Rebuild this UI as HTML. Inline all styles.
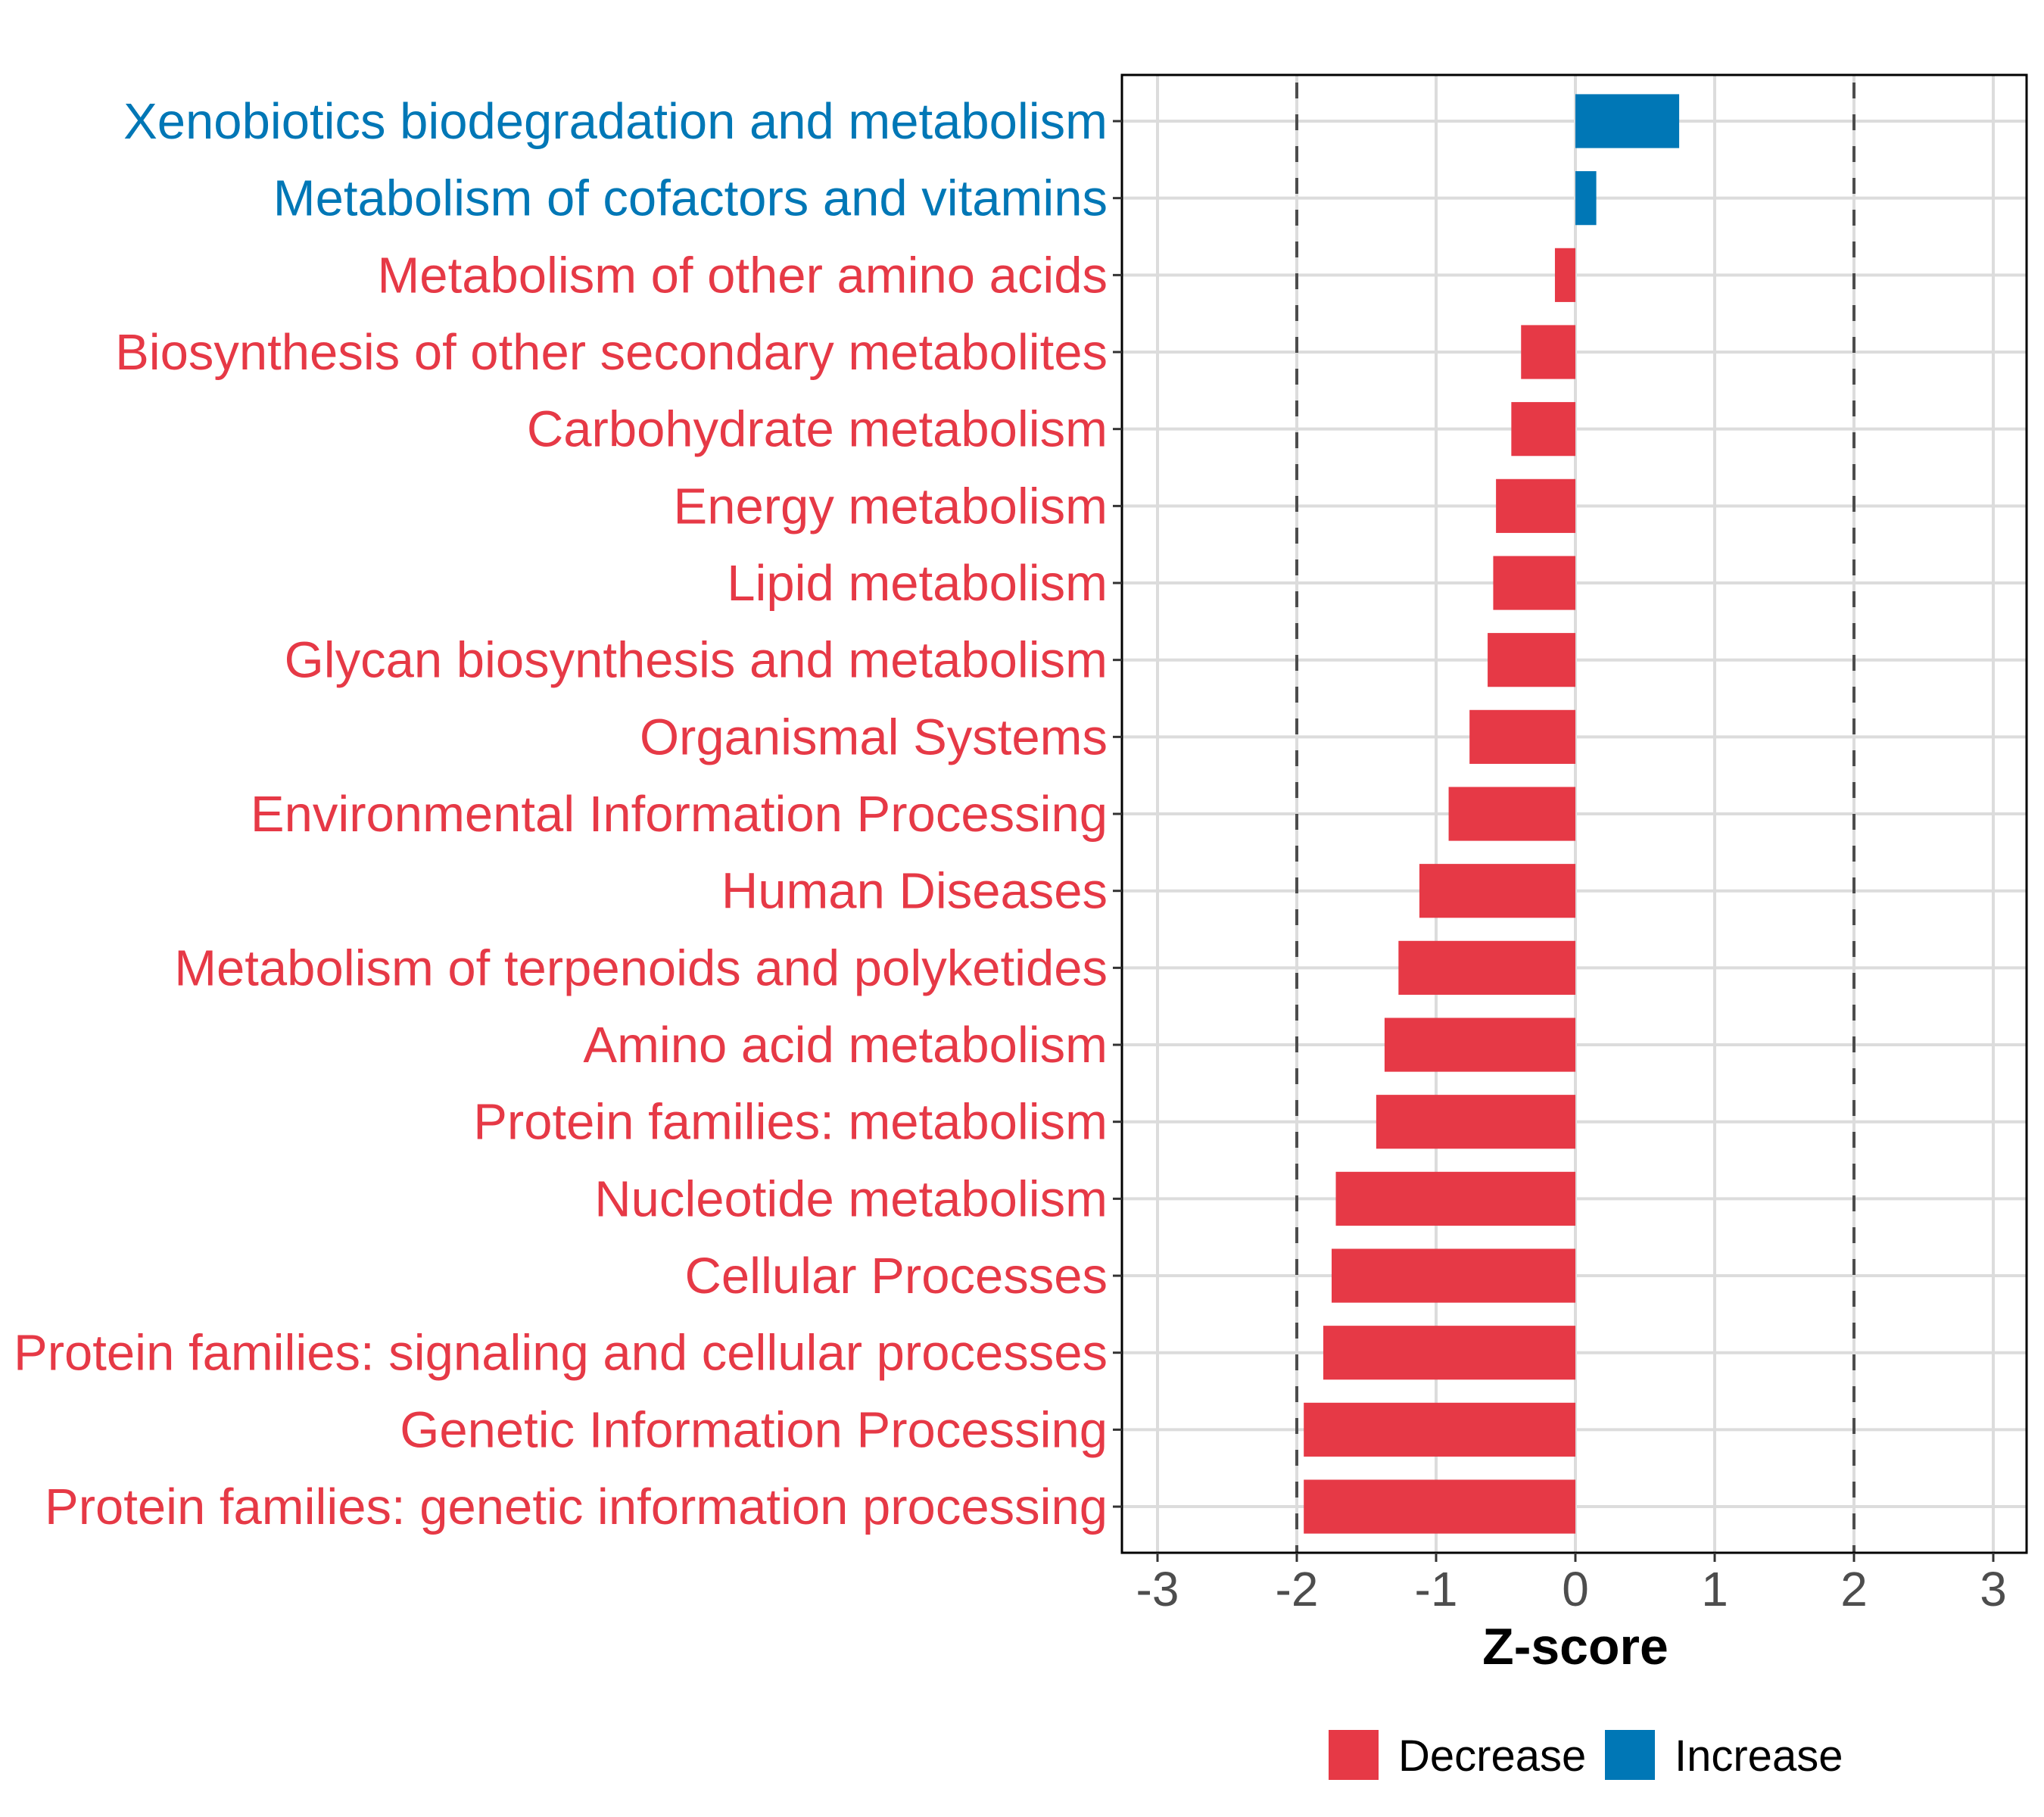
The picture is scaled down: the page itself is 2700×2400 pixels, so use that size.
<!DOCTYPE html>
<html><head><meta charset="utf-8"><style>
html,body{margin:0;padding:0;background:#fff}
svg{display:block;font-family:"Liberation Sans",Arial,sans-serif}
</style></head><body>
<svg id="chart" width="2700" height="2400" viewBox="0 0 2700 2400" xmlns="http://www.w3.org/2000/svg">
<rect width="2700" height="2400" fill="#fff"/>
<g id="grid"></g>
<g id="bars"></g>
<g id="refs"></g>
<rect x="1482" y="99" width="1195" height="1952" fill="none" stroke="#000" stroke-width="3"/>
<g id="yaxis"></g>
<g id="xaxis"></g>
<text x="2081" y="2198" text-anchor="middle" font-size="68" font-weight="bold" fill="#000">Z-score</text>
<g>
<rect x="1755" y="2285" width="66" height="66" fill="#E63946"/>
<text x="1847" y="2339" font-size="58" fill="#000">Decrease</text>
<rect x="2120" y="2285" width="66" height="66" fill="#0077B6"/>
<text x="2212" y="2339" font-size="58" fill="#000">Increase</text>
</g>
</svg>
<script>
const categories = ["Xenobiotics biodegradation and metabolism","Metabolism of cofactors and vitamins","Metabolism of other amino acids","Biosynthesis of other secondary metabolites","Carbohydrate metabolism","Energy metabolism","Lipid metabolism","Glycan biosynthesis and metabolism","Organismal Systems","Environmental Information Processing","Human Diseases","Metabolism of terpenoids and polyketides","Amino acid metabolism","Protein families: metabolism","Nucleotide metabolism","Cellular Processes","Protein families: signaling and cellular processes","Genetic Information Processing","Protein families: genetic information processing"];
const zscores = [0.745,0.15,-0.147,-0.39,-0.46,-0.57,-0.59,-0.63,-0.76,-0.91,-1.12,-1.27,-1.37,-1.43,-1.72,-1.75,-1.81,-1.95,-1.95];
const xTicks = [-3,-2,-1,0,1,2,3];
const xTickLabels = ["-3","-2","-1","0","1","2","3"];
const refLines = [-2,2];

const NS="http://www.w3.org/2000/svg";
const zero=2081, unit=184, top0=160, step=101.67, panelTop=99, panelBot=2051, panelL=1482, panelR=2677;
function xs(v){return zero+v*unit;}
function ys(i){return top0+i*step;}
function mk(tag,attrs,parent){const e=document.createElementNS(NS,tag);for(const k in attrs)e.setAttribute(k,attrs[k]);parent.appendChild(e);return e;}
const grid=document.getElementById('grid'),bars=document.getElementById('bars'),refs=document.getElementById('refs'),yaxis=document.getElementById('yaxis'),xaxis=document.getElementById('xaxis');

xTicks.forEach((t,i)=>{
  const g=mk('line',{x1:xs(t),x2:xs(t),y1:panelTop,y2:panelBot,stroke:'#dcdcdc','stroke-width':4},grid);
  
  
  const tk=mk('line',{x1:xs(t),x2:xs(t),y1:2051,y2:2063,stroke:'#333','stroke-width':3},xaxis);
  
  
  const lb=mk('text',{x:xs(t),y:2121,'text-anchor':'middle','font-size':64,fill:'#4d4d4d'},xaxis);
  lb.textContent=xTickLabels[i];
  
  
});
categories.forEach((c,i)=>{
  const y=ys(i);
  const g=mk('line',{x1:panelL,x2:panelR,y1:y,y2:y,stroke:'#dcdcdc','stroke-width':4},grid);
  
  
  const v=zscores[i];
  const col=v>=0?'#0077B6':'#E63946';
  const h=step*0.7;
  const b=mk('rect',{x:Math.min(xs(0),xs(v)),y:y-h/2,width:Math.abs(xs(v)-xs(0)),height:h,fill:col},bars);
  
  
  const tk=mk('line',{x1:panelL-12,x2:panelL,y1:y,y2:y,stroke:'#333','stroke-width':3},yaxis);
  
  
  const lb=mk('text',{x:1463,y:y+23,'text-anchor':'end','font-size':67,fill:col},yaxis);
  lb.textContent=c;
  
  
});
refLines.forEach(r=>{
  const l=mk('line',{x1:xs(r),x2:xs(r),y1:panelTop,y2:panelBot,stroke:'#4d4d4d','stroke-width':4,'stroke-dasharray':'21 21','stroke-dashoffset':'-10'},refs);
  
  
});
</script>
</body></html>
